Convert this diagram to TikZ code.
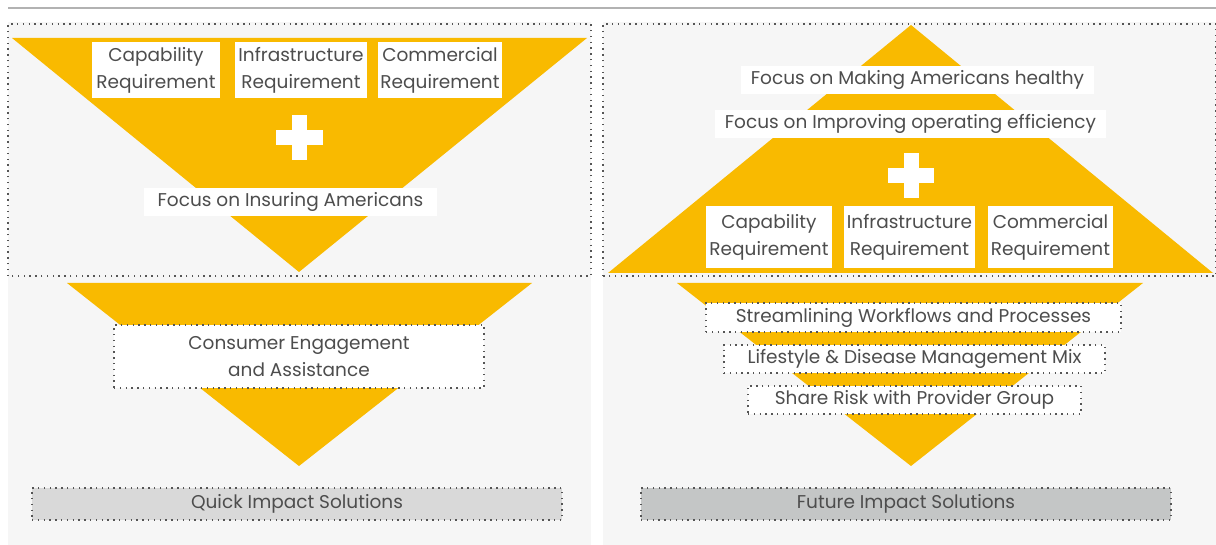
\documentclass[tikz,border=0pt]{standalone}
\usepackage{fontspec}
\setmainfont{Poppins}
\usepackage{tikz}
\definecolor{funnelgold}{HTML}{F9BA00}
\definecolor{panelgray}{HTML}{F6F6F6}
\definecolor{inkgray}{HTML}{4D4D4D}
\definecolor{dotgray}{HTML}{555555}
\definecolor{quickgray}{HTML}{D9D9D9}
\definecolor{futuregray}{HTML}{C4C6C6}
\tikzset{
  reqbox/.style={fill=white, text=inkgray, align=center, inner sep=0pt},
  dotbox/.style={reqbox, draw=dotgray, line width=1.4pt, dash pattern=on 1.4pt off 4.4pt},
  plusbar/.style={fill=white}
}

\begin{document}
\begin{tikzpicture}[x=1pt, y=-1pt, font=\fontsize{18.5}{27}\selectfont]
  \useasboundingbox (0,0) rectangle (1216,545);
  \fill[white] (0,0) rectangle (1216,545);

  % ---- header rule and panel backgrounds ----
  \draw[gray!60, line width=1.8pt] (8,8) -- (1216,8);
  \fill[panelgray] (8,22) rectangle (591,545);
  \fill[panelgray] (603,22) rectangle (1216,545);

  % ---- LEFT: today's funnel ----
  % Upper funnel
  \fill[funnelgold] (12,38) -- (587,38) -- (299,272) -- cycle;
  \node[reqbox, minimum width=128pt, minimum height=56pt] (capL) at (156,70) {Capability\\Requirement};
  \node[reqbox, minimum width=132pt, minimum height=56pt] (infL) at (301,70) {Infrastructure\\Requirement};
  \node[reqbox, minimum width=124pt, minimum height=56pt] (comL) at (440,70) {Commercial\\Requirement};
  % Plus sign
  \fill[plusbar] (276,130) rectangle (323,145);
  \fill[plusbar] (292,115) rectangle (307,160);
  \node[reqbox, minimum width=293pt, minimum height=28pt] (insL) at (290.5,202) {Focus on Insuring Americans};
  \draw[dotgray, line width=1.4pt, dash pattern=on 1.4pt off 4.4pt] (8,276) -- (8,24) -- (591,24) -- (591,276) -- cycle;
  % Lower funnel
  \fill[funnelgold] (67,283) -- (532,283) -- (299,466) -- cycle;
  \node[dotbox, minimum width=370pt, minimum height=63pt] (engL) at (299,356.5) {Consumer Engagement\\and Assistance};
  \node[dotbox, fill=quickgray, minimum width=530pt, minimum height=32pt] (quick) at (297,504) {Quick Impact Solutions};

  % ---- RIGHT: future pyramid ----
  % Pyramid
  \fill[funnelgold] (911,25) -- (1213,273) -- (608,273) -- cycle;
  \node[reqbox, minimum width=353pt, minimum height=28pt] (hlthR) at (917.5,80) {Focus on Making Americans healthy};
  \node[reqbox, minimum width=391pt, minimum height=28pt] (effR) at (910.5,124) {Focus on Improving operating efficiency};
  % Plus sign
  \fill[plusbar] (888,168) rectangle (934,183);
  \fill[plusbar] (903.5,153) rectangle (918.5,198);
  \node[reqbox, minimum width=126pt, minimum height=62pt] (capR) at (769,237) {Capability\\Requirement};
  \node[reqbox, minimum width=131pt, minimum height=62pt] (infR) at (909.5,237) {Infrastructure\\Requirement};
  \node[reqbox, minimum width=125pt, minimum height=62pt] (comR) at (1050.5,237) {Commercial\\Requirement};
  \draw[dotgray, line width=1.4pt, dash pattern=on 1.4pt off 4.4pt] (603,276) -- (603,24) -- (1216,24) -- (1216,276) -- cycle;
  % Lower funnel
  \fill[funnelgold] (677,283) -- (1143,283) -- (911,466) -- cycle;
  \node[dotbox, minimum width=415pt, minimum height=29pt] (flowR) at (913.5,317.5) {Streamlining Workflows and Processes};
  \node[dotbox, minimum width=381pt, minimum height=28pt] (mixR) at (914.5,359) {Lifestyle \& Disease Management Mix};
  \node[dotbox, minimum width=333pt, minimum height=28pt] (riskR) at (914.5,400) {Share Risk with Provider Group};
  \node[dotbox, fill=futuregray, minimum width=530pt, minimum height=32pt] (future) at (906,504) {Future Impact Solutions};

\end{tikzpicture}
\end{document}
